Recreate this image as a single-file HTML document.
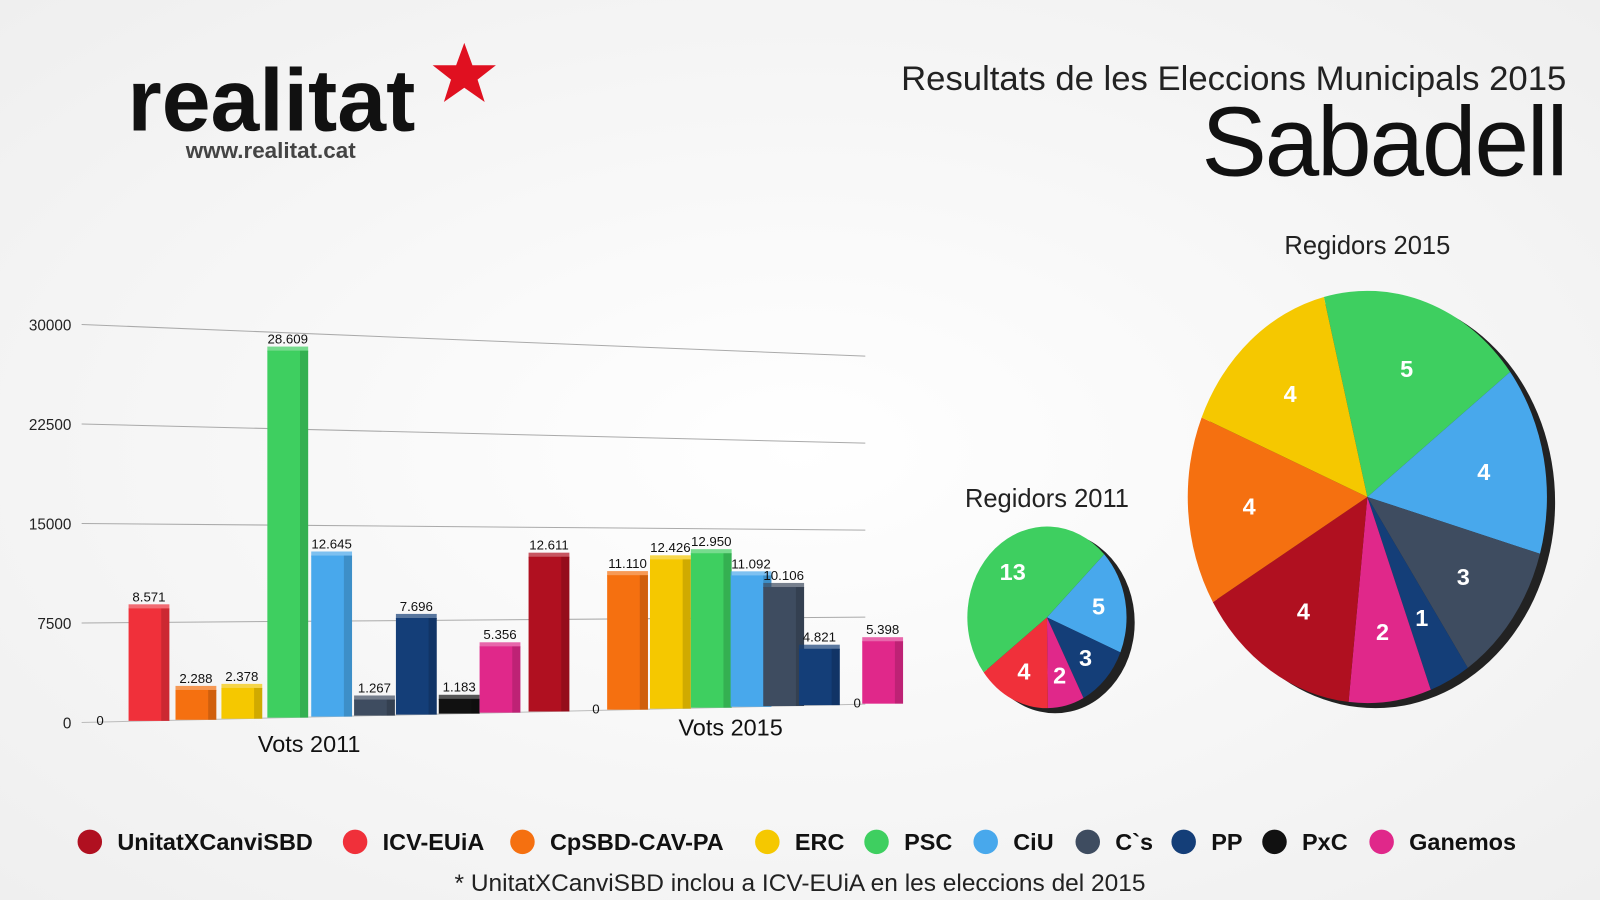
<!DOCTYPE html>
<html><head><meta charset="utf-8"><style>
html,body{margin:0;padding:0;background:#f7f7f7;}
svg{display:block;font-family:"Liberation Sans",sans-serif;}
</style></head><body>
<svg id="c" width="1600" height="900" viewBox="0 0 1568 882" preserveAspectRatio="none">
<defs>
<radialGradient id="bg" cx="0.5" cy="0.5" r="0.7"><stop offset="0" stop-color="#ffffff"/><stop offset="1" stop-color="#efefef"/></radialGradient>
</defs>
<rect width="1568" height="882" fill="url(#bg)"/>
<g>
<text x="125" y="128" font-size="86" font-weight="bold" fill="#111" letter-spacing="0">realitat</text>
<polygon fill="#e01020" points="455,42 463,64 486,64 468,78 475,100 455,86 435,100 442,78 424,64 447,64"/>
<text x="182" y="155" font-size="22" font-weight="bold" fill="#444">www.realitat.cat</text>
</g>
<text x="1535" y="88" text-anchor="end" font-size="34" fill="#222">Resultats de les Eleccions Municipals 2015</text>
<text x="1535" y="172" text-anchor="end" font-size="96" fill="#111" letter-spacing="-2">Sabadell</text>
<g id="bars"></g>
<g id="pies"></g>
<g id="legend"></g>
<text x="784" y="873" text-anchor="middle" font-size="24" fill="#222">* UnitatXCanviSBD inclou a ICV-EUiA en les eleccions del 2015</text>
</svg>
<script>
const parties = ["UnitatXCanviSBD","ICV-EUiA","CpSBD-CAV-PA","ERC","PSC","CiU","C`s","PP","PxC","Ganemos"];
const colors = ["#b01020","#f0303a","#f57010","#f5c800","#3ecf60","#48a8ec","#3e4c60","#143e78","#111111","#e0288a"];
const votes2011 = [0,8571,2288,2378,28609,12645,1267,7696,1183,5356];
const votes2015 = [12611,0,11110,12426,12950,11092,10106,4821,0,5398];
const labels2011 = ["0","8.571","2.288","2.378","28.609","12.645","1.267","7.696","1.183","5.356"];
const labels2015 = ["12.611","0","11.110","12.426","12.950","11.092","10.106","4.821","0","5.398"];
const yTicks = [0,7500,15000,22500,30000];
const seats2011 = [0,4,0,0,13,5,0,3,0,2];
const seats2015 = [4,0,4,4,5,4,3,1,0,2];
const NS="http://www.w3.org/2000/svg";
function mk(t,a,p){const e=document.createElementNS(NS,t);for(const k in a)e.setAttribute(k,a[k]);p.appendChild(e);return e;}
const xL=80,xR=848;
function base(x){return 708+(690-708)*(x-xL)/(xR-xL);}
function kf(x){const kl=390/30000,kr=341/30000;return kl+(kr-kl)*(x-xL)/(xR-xL);}
function yv(x,v){return base(x)-v*kf(x);}
const bars=document.getElementById('bars');
yTicks.forEach(t=>{
  const l=mk('line',{x1:xL,y1:yv(xL,t),x2:xR,y2:yv(xR,t),stroke:t===0?'#bbb':'#aaa','stroke-width':1},bars);
  
  
  const tx=mk('text',{x:70,y:yv(xL,t)+6,'text-anchor':'end','font-size':15,fill:'#222'},bars);
  tx.textContent=t;
  
  
});
const x2011=[98,146,192,237,282,325,367,408,450,490];
const x2015=[538,584,615,657,697,736,768,803,840,865];
function drawSeries(vals,labs,xs,tag){
  vals.forEach((v,i)=>{
    const cx=xs[i],w=40,x0=cx-w/2;
    const yb=base(cx),yt=yv(cx,v);
    if(v>0){
      const r=mk('rect',{x:x0,y:yt,width:w,height:yb-yt,fill:colors[i]},bars);
      
      
      const tp=mk('rect',{x:x0,y:yt-4,width:w,height:5,fill:colors[i],opacity:0.7},bars);
      
      
      const sh=mk('rect',{x:x0+w-8,y:yt,width:8,height:yb-yt,fill:'#000',opacity:0.15},bars);
      
      
    }
    const t=mk('text',{x:cx,y:v>0?yt-7:yb+3,'text-anchor':'middle','font-size':13,fill:'#111'},bars);
    t.textContent=labs[i];
    
    
  });
}
drawSeries(votes2011,labels2011,x2011,'2011');
drawSeries(votes2015,labels2015,x2015,'2015');
[[303,737,'Vots 2011'],[716,721,'Vots 2015']].forEach(([x,y,s],i)=>{
  const t=mk('text',{x:x,y:y,'text-anchor':'middle','font-size':23,fill:'#111'},bars);t.textContent=s;
  
  
});
const pies=document.getElementById('pies');
function pie(seats,order,cx,cy,rx,ry,start,tag,fs,title,ty){
  const total=seats.reduce((a,b)=>a+b,0);
  const sh=mk('ellipse',{cx:cx+8,cy:cy+5,rx:rx,ry:ry,fill:'#222'},pies);
  
  
  let a=start*Math.PI/180;
  order.forEach(i=>{
    const s=seats[i];if(!s)return;
    const da=s/total*2*Math.PI,a2=a+da;
    const p=mk('path',{d:`M${cx},${cy}L${cx+rx*Math.cos(a)},${cy+ry*Math.sin(a)}A${rx},${ry} 0 ${da>Math.PI?1:0} 1 ${cx+rx*Math.cos(a2)},${cy+ry*Math.sin(a2)}Z`,fill:colors[i]},pies);
    
    
    const m=(a+a2)/2;
    const t=mk('text',{x:cx+rx*0.66*Math.cos(m),y:cy+ry*0.66*Math.sin(m)+fs*0.35,'text-anchor':'middle','font-size':fs,'font-weight':'bold',fill:'#fff'},pies);
    t.textContent=s;
    
    
    a=a2;
  });
  const t=mk('text',{x:cx,y:ty,'text-anchor':'middle','font-size':25,fill:'#222'},pies);
  t.textContent=title;
  
  
}
pie(seats2011,[5,7,9,1,4],1026,605,78,89,-44,'2011',23,'Regidors 2011',497);
pie(seats2015,[4,5,6,7,9,0,2,3],1340,487,176,202,-104,'2015',23,'Regidors 2015',249);
const lg=document.getElementById('legend');
const lx=[88,348,512,752,859,966,1066,1160,1249,1354];
parties.forEach((p,i)=>{
  const c=mk('circle',{cx:lx[i],cy:825,r:12,fill:colors[i]},lg);
  
  
  const t=mk('text',{x:lx[i]+27,y:833,'font-size':23,'font-weight':'bold',fill:'#111'},lg);
  t.textContent=p;
  
  
});
</script>
</body></html>
